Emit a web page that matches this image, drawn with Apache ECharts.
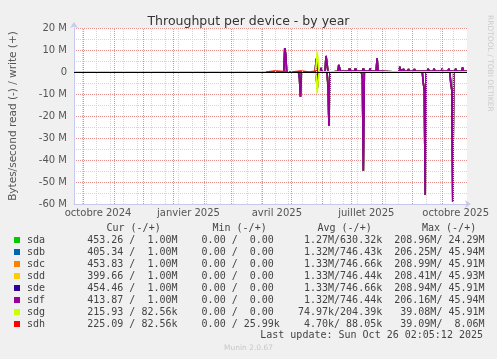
<!DOCTYPE html>
<html>
<head>
<meta charset="utf-8">
<script src="https://cdn.jsdelivr.net/npm/echarts@6/dist/echarts.min.js"></script>
<style>
html,body{margin:0;padding:0;background:#f0f0f0;}
#c{width:497px;height:359px;}
</style>
</head>
<body>
<div id="c"></div>
<script>
// ---- data (x = days since 1 Oct 2024, y = MB/s; read negative, write positive) ----
const disks = ['sda','sdb','sdc','sdd','sde','sdf','sdg','sdh'];
const diskColors = ['#00cc00','#0066b3','#ff8000','#ffcc00','#330099','#990099','#ccff00','#ff0000'];

const raidWrite = [
  [-9.5,0],[204,0],[205,10.8],[206,8],[207,0],
  [236,0],[237,6],[238,0],
  [241,0],[242,1.8],[243,0],
  [246,0],[247,7.3],[248,4],[249,0],
  [253,0],[254,0.8],[255,0.3],[259,0.3],[260,3.2],[261,1.5],[262,0.3],[265,0.3],[266,1.2],[267,0.3],
  [270,0.3],[271,1.7],[272,0.3],[276,0.3],[277,1.7],[278,0.3],[284,0.3],[285,1.7],[286,0.3],
  [291,0.3],[292,1.7],[293,0.3],[298,0.3],[299,6.2],[300,0.3],[303,0.3],[304,0],
  [321,0],[322,2.4],[323,0.5],[325,0.3],[326,1.3],[327,0.3],[330,0.3],[331,1.3],[332,0.3],
  [336,0.3],[337,1.3],[338,0.3],[343,0.3],[344,1.2],[345,0.3],[350,0.3],[351,1.5],[352,0.3],
  [356,0.3],[357,1.5],[358,0.3],[364,0.3],[365,1.5],[366,0.3],[371,0.3],[372,1.5],[373,0.3],
  [378,0.3],[379,1.5],[380,0.3],[385,0.3],[386,2.1],[387,0.3],[388,1.0],[389,0.3],[390.5,0.3]
];
const raidRead = [
  [-9.5,0],[219,0],[220,-3],[221,-11.2],[222,0],
  [237,0],[238,-8],[239,0],
  [248,0],[249,-6],[250,-24.4],[251,0],
  [283,0],[284,-3],[285,-44.9],[286,0],
  [345,0],[346,-5],[347,-8],[348,-55.9],[349,0],
  [373,0],[374,-5],[375,-8],[376,-59],[377,0],
  [390.5,0]
];
const sdgWrite = [[-9.5,0],[236,0],[237,3],[238,9.2],[239,5],[240,0],[390.5,0]];
const sdgRead  = [[-9.5,0],[236,0],[237,-2],[238,-9.5],[239,-4],[240,0],[390.5,0]];
const sdhWrite = [[186,0],[187,0.4],[195,0.4],[196,0],[213,0],[214,0.4],[221,0.4],[222,0],[230,0],[231,0.4],[237,0.4],[238,0]];
const sdhRead  = [[190,0],[191,-0.6],[192,0]];

const monthDays = [0,31,61,92,123,151,182,212,243,273,304,335,365];
const minorDays = [-1,13,27,41,55,69,83,97,111,125,139,153,167,181,195,209,223,237,251,265,279,293,307,321,335,349,363,377];
const labelDays = [15,107,197,288,379];
const labelTexts = ['octobre 2024','janvier 2025','avril 2025','juillet 2025','octobre 2025'];

const curVals = ['453.26 /  1.00M','405.34 /  1.00M','453.83 /  1.00M','399.66 /  1.00M','454.46 /  1.00M','413.87 /  1.00M','215.93 / 82.56k','225.09 / 82.56k'];
const minVals = ['0.00 /  0.00','0.00 /  0.00','0.00 /  0.00','0.00 /  0.00','0.00 /  0.00','0.00 /  0.00','0.00 /  0.00','0.00 / 25.99k'];
const avgVals = ['1.27M/630.32k','1.32M/746.43k','1.33M/746.66k','1.33M/746.44k','1.33M/746.66k','1.32M/746.44k','74.97k/204.39k','4.70k/ 88.05k'];
const maxVals = ['208.96M/ 24.29M','206.25M/ 45.94M','208.99M/ 45.91M','208.41M/ 45.93M','208.94M/ 45.91M','206.16M/ 45.94M',' 39.08M/ 45.91M',' 39.09M/  8.06M'];
const headers = ['Cur (-/+)','Min (-/+)','Avg (-/+)','Max (-/+)'];
const lastUpdate = 'Last update: Sun Oct 26 02:05:12 2025';

// ---- build ----
const mono = 'DejaVu Sans Mono';
const sans = 'DejaVu Sans';
const txt = '#444';

function rowText(i){
  const name = disks[i];
  let s = name.padEnd(10) + curVals[i];
  s = s.padEnd(29) + minVals[i];
  s = s + avgVals[i].padStart(59 - s.length);
  s = s + maxVals[i].padStart(76 - s.length);
  return s;
}

const series = [];
series.push({
  type:'line', data:[], silent:true, z:1,
  markLine:{ silent:true, symbol:'none', animation:false, label:{show:false},
    lineStyle:{color:'#d6d6d6', type:[1,1], width:1},
    data: minorDays.map(d=>({xAxis:d})) }
});
series.push({
  type:'line', data:[], silent:true, z:1,
  markLine:{ silent:true, symbol:'none', animation:false, label:{show:false},
    lineStyle:{color:'#e89090', type:[1,1], width:1},
    data: monthDays.map(d=>({xAxis:d})) }
});
disks.forEach((d,i)=>{
  let w = raidWrite, r = raidRead;
  if (d==='sdg'){ w = sdgWrite; r = sdgRead; }
  if (d==='sdh'){ w = sdhWrite; r = sdhRead; }
  [r,w].forEach(arr=>{
    series.push({
      name:d, type:'line', data:arr, showSymbol:false, symbol:'none',
      color:diskColors[i], lineStyle:{width:1.6, color:diskColors[i]},
      animation:false, z:2
    });
  });
});
series.push({
  type:'line', data:[], silent:true, z:3,
  markLine:{ silent:true, symbol:'none', animation:false, label:{show:false},
    lineStyle:{color:'#000', type:'solid', width:1},
    data:[{yAxis:0}] }
});

const graphics = [];
const headerX = [107, 213, 318, 422.5];
headers.forEach((h,k)=>{
  graphics.push({type:'text', left:headerX[k]-0.5, top:223, style:{text:h, font:'10px "'+mono+'"', fill:txt}});
});
graphics.push({type:'text', right:14, top:330, style:{text:lastUpdate, font:'10px "'+mono+'"', fill:txt}});
graphics.push({type:'text', left:'center', top:344, style:{text:'Munin 2.0.67', font:'7.5px "'+sans+'"', fill:'#c8c8c8'}});
graphics.push({type:'text', x:490, y:15, rotation:-Math.PI/2, style:{text:'RRDTOOL / TOBI OETIKER', font:'7.5px "'+sans+'"', fill:'#cccccc', align:'left', verticalAlign:'middle'}});

const chart = echarts.init(document.getElementById('c'), null, {renderer:'canvas'});
chart.setOption({
  backgroundColor:'#f0f0f0',
  animation:false,
  title:{ text:'Throughput per device - by year', left:'center', top:10,
    textStyle:{fontFamily:sans, fontSize:12.5, fontWeight:'normal', color:'#333'} },
  grid:{ left:67, top:28, width:400, height:176, show:true, backgroundColor:'#ffffff', borderWidth:0 },
  xAxis:{
    type:'value', min:-9.5, max:390.5,
    axisLine:{show:true, onZero:false, symbol:['none','arrow'], symbolSize:[6,6], symbolOffset:[0,4], lineStyle:{color:'#c8c8ee', width:1}},
    axisTick:{show:false},
    splitLine:{show:false},
    axisLabel:{ customValues: labelDays, formatter:v=>{const k=labelDays.indexOf(v); return k>=0?labelTexts[k]:'';},
      fontFamily:sans, fontSize:10, color:'#555', margin:4 }
  },
  yAxis:{
    type:'value', min:-60, max:20, interval:10,
    name:'Bytes/second read (-) / write (+)', nameLocation:'middle', nameGap:55, nameRotate:90,
    nameTextStyle:{fontFamily:sans, fontSize:10.5, color:'#555'},
    axisLine:{show:true, onZero:false, symbol:['none','arrow'], symbolSize:[6,6], symbolOffset:[0,6], lineStyle:{color:'#c8c8ee', width:1}},
    axisTick:{show:false},
    axisLabel:{ formatter:v=> v===0 ? '0' : v+' M', fontFamily:sans, fontSize:10, color:'#555', margin:7 },
    splitLine:{show:true, lineStyle:{color:'#e89090', type:[1,1], width:1}},
    minorTick:{show:false, splitNumber:2},
    minorSplitLine:{show:true, lineStyle:{color:'#d6d6d6', type:[1,1], width:1}}
  },
  legend:{
    data:disks, orient:'vertical', left:14, top:234, padding:0, itemGap:0,
    icon:'rect', itemWidth:6, itemHeight:6, selectedMode:false,
    formatter:(name)=>rowText(disks.indexOf(name)),
    textStyle:{fontFamily:mono, fontSize:10, color:txt, lineHeight:12, padding:[0,0,0,2]}
  },
  graphic:graphics,
  series:series
});
</script>
</body>
</html>
